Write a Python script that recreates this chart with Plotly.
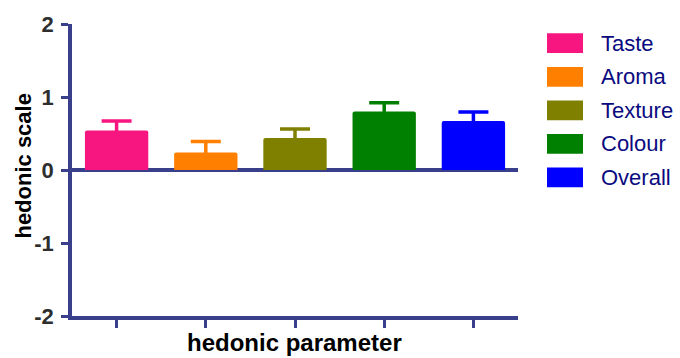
import plotly.graph_objects as go

categories = ["Taste", "Aroma", "Texture", "Colour", "Overall"]
means = [0.54, 0.24, 0.44, 0.80, 0.67]
sem = [0.13, 0.15, 0.12, 0.12, 0.125]
colors = ["#F7167F", "#FF8000", "#808000", "#008000", "#0000FF"]
ytick_vals = [-2, -1, 0, 1, 2]
ytick_text = ["-2", "-1", "0", "1", "2"]
x_title = "hedonic parameter"
y_title = "hedonic scale"

W, H = 680, 358
L, R, T, B = 72, 518, 20, 316
AX = "#3A3F8C"
FONT = "Arial, Liberation Sans, sans-serif"

def px(x):
    return (x - L) / (R - L)

def py(y):
    return (B - y) / (B - T)

fig = go.Figure()
for i, (c, m, e, col) in enumerate(zip(categories, means, sem, colors)):
    fig.add_trace(go.Bar(
        x=[i], y=[m], name=c, width=0.71,
        marker=dict(color=col, line=dict(width=0), cornerradius=2),
        error_y=dict(type="data", symmetric=True, array=[e],
                     color=col, thickness=3.5, width=15),
        showlegend=False,
    ))

shapes = []
annotations = []
for i, (c, col) in enumerate(zip(categories, colors)):
    cy = 39.5 + 34 * i
    shapes.append(dict(type="rect", xref="paper", yref="paper",
                       x0=px(547), x1=px(583), y0=py(cy + 10), y1=py(cy - 10),
                       fillcolor=col, line=dict(width=0)))
    annotations.append(dict(text=c, xref="paper", yref="paper", x=px(599), y=py(cy),
                            xanchor="left", yanchor="middle", showarrow=False,
                            font=dict(family=FONT, size=22, color="#0A0A80")))

annotations.append(dict(text="<b>%s</b>" % x_title, xref="paper", yref="paper",
                        x=px(294), y=py(343), xanchor="center", yanchor="middle",
                        showarrow=False, font=dict(family=FONT, size=24, color="#000000")))
annotations.append(dict(text="<b>%s</b>" % y_title, xref="paper", yref="paper",
                        x=px(24), y=py(163.5), xanchor="center", yanchor="middle",
                        textangle=-90, showarrow=False,
                        font=dict(family=FONT, size=22, color="#000000")))

fig.update_layout(
    width=W, height=H,
    margin=dict(l=L, r=W - R, t=T, b=H - B, pad=0),
    paper_bgcolor="white", plot_bgcolor="white",
    barmode="overlay",
    shapes=shapes, annotations=annotations,
    xaxis=dict(range=[-0.5, 4.5], tickvals=list(range(len(categories))),
               showticklabels=False, ticks="outside", ticklen=8, tickwidth=3,
               tickcolor=AX, showline=True, linecolor=AX, linewidth=3.5,
               showgrid=False, zeroline=False, fixedrange=True),
    yaxis=dict(range=[-2, 2], tickvals=ytick_vals, ticktext=ytick_text,
               ticks="outside", ticklen=7, tickwidth=3, tickcolor=AX,
               showline=True, linecolor=AX, linewidth=3.5,
               showgrid=False, zeroline=True, zerolinecolor=AX, zerolinewidth=3.5,
               tickfont=dict(family=FONT, size=22, color="#2E2E2E", weight="bold"),
               ticklabelstandoff=3, fixedrange=True),
)

fig.write_html(
    "out.html",
    config={"displayModeBar": False},
    post_script="document.body.style.margin='0';document.body.style.overflow='hidden';",
)
